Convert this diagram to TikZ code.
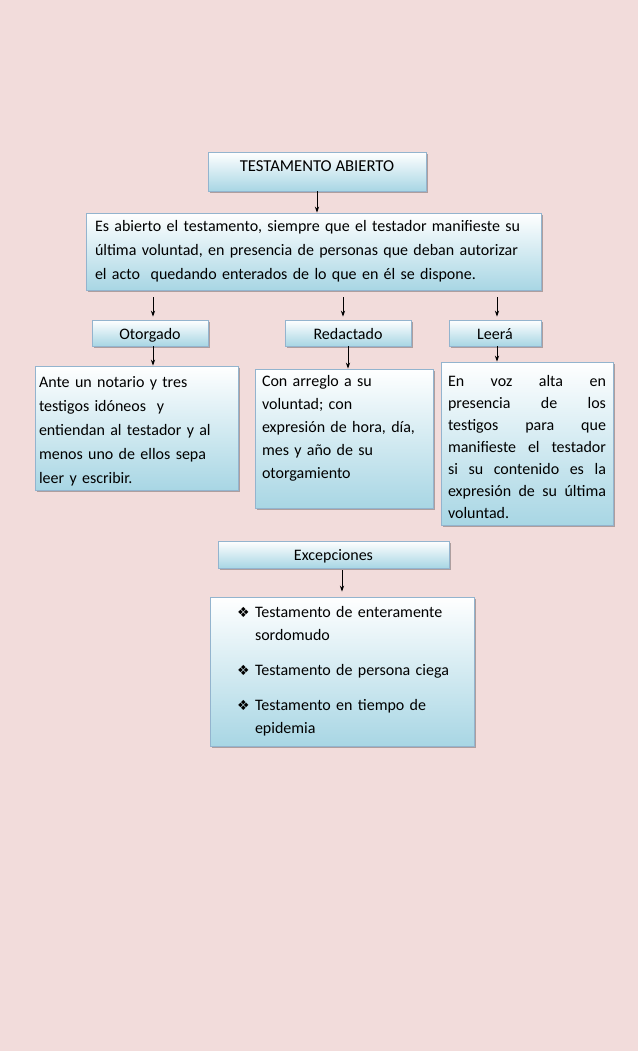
\documentclass[tikz,border=0pt]{standalone}
\usepackage{fontspec}
\setmainfont{Carlito}
\newfontfamily\symfont{DejaVu Sans}
\usetikzlibrary{arrows.meta, positioning, shadows}

\definecolor{bgpink}{RGB}{242,220,219}
\definecolor{boxline}{RGB}{147,180,206}
\definecolor{boxbottom}{RGB}{168,214,228}
\newcommand{\px}{0.75pt}
\newcommand{\bul}{\makebox[13.5pt][l]{\symfont\fontsize{10.5}{12}\selectfont ❖}}

\tikzset{
  box/.style={draw=boxline, line width=0.6pt, top color=white, bottom color=boxbottom,
    drop shadow={shadow xshift=1.6pt, shadow yshift=-1.8pt, fill=black, opacity=0.28},
    font=\fontsize{12}{18}\selectfont, inner sep=0pt},
  labelbox/.style={box, text height=12pt, text depth=3pt},
  arr/.style={-{Stealth[length=4.5pt, width=3.2pt]}, line width=0.6pt},
}

\begin{document}
\begin{tikzpicture}[x=0.75pt, y=-0.75pt]
    % Background
    \fill[bgpink] (0,0) rectangle (638,1051);
    \useasboundingbox (0,0) rectangle (638,1051);

    % Title and definition
    \node[labelbox, font=\fontsize{12.5}{18}\selectfont, text height=9pt, text depth=9pt, minimum width=218*\px, minimum height=39*\px] (titulo) at (317,171.5) {TESTAMENTO ABIERTO};
    \node[box, minimum width=455*\px, minimum height=77*\px, text width=437*\px, align=left] (defin) at (313.5,251.5)
      {Es abierto el testamento, siempre que el testador manifieste su\\
       última voluntad, en presencia de personas que deban autorizar\\
       el acto~ quedando enterados de lo que en él se dispone.};

    % Three branches
    \node[labelbox, minimum width=116*\px, minimum height=26*\px] (otorg) at (150,333) {Otorgado};
    \node[labelbox, minimum width=126*\px, minimum height=26*\px] (redac) at (348,333) {Redactado};
    \node[labelbox, minimum width=92*\px, minimum height=26*\px] (leera) at (495,333) {Leerá};

    \node[box, minimum width=203*\px, minimum height=124*\px, text width=195*\px, align=left] (ante) at (136.5,428)
      {\rule{0pt}{13pt}Ante un notario y tres\\
       testigos idóneos~ y\\
       entiendan al testador y al\\
       menos uno de ellos sepa\\
       leer y escribir.};
    \node[box, minimum width=178*\px, minimum height=139*\px, text width=164*\px, align=left,
      font=\fontsize{12}{17.25}\selectfont] (arreglo) at (344,438.5)
      {Con arreglo a su\\
       voluntad; con\\
       expresión de hora, día,\\
       mes y año de su\\
       otorgamiento\rule[-17.5pt]{0pt}{0pt}};
    \node[box, minimum width=172*\px, minimum height=163*\px, text width=158*\px, align=justify,
      font=\fontsize{12}{16.5}\selectfont] (vozalta) at (527,443.5)
      {\rule{0pt}{13pt}En voz alta en\linebreak
       presencia de los\linebreak
       testigos para que\linebreak
       manifieste el testador\linebreak
       si su contenido es la\linebreak
       expresión de su última\linebreak
       voluntad.};

    % Exceptions
    \node[labelbox, minimum width=231*\px, minimum height=27*\px] (excep) at (333.5,554.5) {Excepciones};
    \node[box, minimum width=264*\px, minimum height=149*\px, text width=232*\px, align=left,
      font=\fontsize{12}{17.25}\selectfont] (lista) at (342,671.5)
      {\leftskip=8.25pt
       \bul Testamento de enteramente\\
       \hspace*{13.5pt}sordomudo\\[9pt]
       \bul Testamento de persona ciega\\[9pt]
       \bul Testamento en tiempo de\\
       \hspace*{13.5pt}epidemia\par};

    % Arrows
    \draw[arr] (titulo.south) -- (defin.north -| titulo.south);
    \draw[arr] ([xshift=2.25pt, yshift=-5.25pt]defin.south -| otorg.north) -- ([xshift=2.25pt, yshift=2.25pt]otorg.north);
    \draw[arr] ([xshift=-3.75pt, yshift=-5.25pt]defin.south -| redac.north) -- ([xshift=-3.75pt, yshift=2.25pt]redac.north);
    \draw[arr] ([xshift=1.5pt, yshift=-5.25pt]defin.south -| leera.north) -- ([xshift=1.5pt, yshift=2.25pt]leera.north);
    \draw[arr] ([xshift=2.25pt]otorg.south) -- ([xshift=2.25pt]otorg.south |- ante.north);
    \draw[arr] (redac.south) -- (redac.south |- arreglo.north);
    \draw[arr] ([xshift=1.5pt]leera.south) -- ([xshift=1.5pt]leera.south |- vozalta.north);
    \draw[arr] ([yshift=-1.5pt]excep.south -| lista.north) -- ([yshift=3.75pt]lista.north);
\end{tikzpicture}
\end{document}
